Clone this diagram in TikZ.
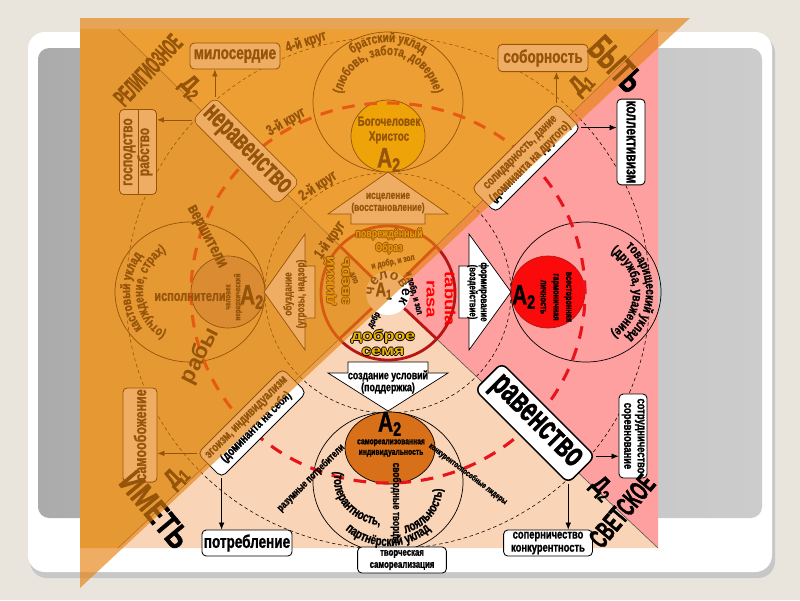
\documentclass[tikz,border=0pt]{standalone}
\usepackage{fontspec}
\setmainfont{Liberation Sans}
\newfontfamily\nrw[FakeStretch=0.74, BoldFeatures={FakeBold=1.2}]{Liberation Sans}
\newfontfamily\mnrw[FakeStretch=0.64, BoldFeatures={FakeBold=1.4}]{Liberation Sans}
\newfontfamily\xnrw[FakeStretch=0.55, BoldFeatures={FakeBold=1.4}]{Liberation Sans}
\newfontfamily\xxnrw[FakeStretch=0.45, BoldFeatures={FakeBold=1.4}]{Liberation Sans}
\newfontfamily\wid[FakeStretch=1.25]{Liberation Sans}
\usetikzlibrary{calc}
\usetikzlibrary{arrows.meta}
\usetikzlibrary{decorations.text}
\usetikzlibrary{positioning}

\definecolor{pagebg}{RGB}{233,229,221}
\definecolor{topq}{RGB}{255,215,120}
\definecolor{rightq}{RGB}{255,160,160}
\definecolor{botq}{RGB}{250,212,182}
\definecolor{leftq}{RGB}{230,195,120}
\definecolor{veil}{RGB}{230,130,15}
\definecolor{ringred}{RGB}{232,20,28}
\definecolor{coreline}{RGB}{185,20,20}
\definecolor{gold}{RGB}{240,180,0}
\definecolor{godc}{RGB}{255,225,0}
\definecolor{slavec}{RGB}{200,160,120}
\definecolor{selfc}{RGB}{215,112,25}
\definecolor{harmc}{RGB}{250,10,10}

\newcommand{\fsz}[2]{\fontsize{#1}{#2}\selectfont}
\newcommand{\goldtxt}[1]{\leavevmode
  \rlap{\color{black}\hspace*{-0.6pt}#1}\rlap{\color{black}\hspace*{0.6pt}#1}%
  \rlap{\color{black}\raisebox{0.6pt}{#1}}\rlap{\color{black}\raisebox{-0.6pt}{#1}}%
  {\color{gold}#1}}
\newcommand{\arcfont}{\nrw\bfseries\fsz{9.5}{10}}

\tikzset{
  sbox/.style={draw, fill=white, rounded corners=3pt, align=center, inner sep=1pt,
    line width=0.6pt, font=\nrw\bfseries\fsz{13}{13}},
  dbox/.style={draw, fill=white, rounded corners=4pt, align=center, inner sep=1pt,
    line width=0.6pt, minimum width=3.0cm, minimum height=0.85cm,
    font=\nrw\bfseries\fsz{9}{10}},
  bigbox/.style={draw, fill=white, rounded corners=5pt, inner sep=1pt,
    font=\mnrw\bfseries\fsz{20}{20}},
  lbl/.style={inner sep=0pt, align=center, font=\nrw\bfseries\fsz{9}{10}},
  alab/.style={inner sep=0pt, font=\nrw\bfseries\fsz{20}{20}},
  dlab/.style={inner sep=0pt, font=\nrw\bfseries\fsz{18}{18}},
  ring/.style={dash pattern=on 2.5pt off 2pt, line width=0.4pt},
  redring/.style={ringred, dash pattern=on 9pt off 7pt, line width=2.2pt},
  cell/.style={line width=0.5pt},
  diag/.style={black!70, line width=0.4pt},
  barrow/.style={draw, fill=white, line width=0.5pt},
  link/.style={-{Latex[length=5pt,width=4pt]}, line width=0.5pt},
  arcword/.style={decorate, decoration={text along path, text align=center, text={#1}}},
}

\begin{document}
\begin{tikzpicture}[x=0.025cm, y=0.025cm]
  \useasboundingbox (0,0) rectangle (800,-600);

  % slide
  \fill[pagebg] (0,0) rectangle (800,-600);
  \fill[black!22, rounded corners=12] (30,-36) rectangle (775,-578);
  \fill[white, rounded corners=12] (28,-32) rectangle (772,-572);
  \shade[rounded corners=8, left color=black!33, right color=black!20, middle color=black!24]
    (38,-48) rectangle (762,-518);

  % quarters
  \coordinate (O) at (388,-293);
  \coordinate (tl) at (118,-29);
  \coordinate (tr) at (658,-29);
  \coordinate (br) at (658,-548);
  \coordinate (bl) at (118,-548);
  \coordinate (T) at (388,-102);
  \coordinate (L) at (190,-292);
  \coordinate (R) at (586,-292);
  \coordinate (B) at (388,-482);

  \fill[topq] (tl) -- (tr) -- (O) -- cycle;
  \fill[rightq] (tr) -- (br) -- (O) -- cycle;
  \fill[botq] (br) -- (bl) -- (O) -- cycle;
  \fill[leftq] (80,-29) -- (tl) -- (O) -- (bl) -- (80,-548) -- cycle;

  % rings
  \draw[ring] (O) ellipse[x radius=262, y radius=256];
  \draw[ring] (O) ellipse[x radius=123, y radius=120];

  % circles of the quarters
  \foreach \c in {T,L,R,B}
    \draw[cell] (\c) ellipse[x radius=75, y radius=70];
  \draw[cell, fill=godc] (388,-136) ellipse[x radius=37, y radius=36];
  \draw[cell, fill=slavec] (228,-292) ellipse[x radius=37, y radius=36];
  \draw[cell, draw=coreline, fill=harmc] (548,-292) ellipse[x radius=37, y radius=36];
  \draw[cell, fill=selfc] (390,-448) ellipse[x radius=45, y radius=36];

  \draw[redring] (O) ellipse[x radius=197, y radius=190];

  % diagonals
  \foreach \k in {tl,tr,br,bl}
    \draw[diag] ($(O)!1.65cm!(\k)$) -- (\k);

  % centre
  \foreach \k in {tl,tr,br,bl}
    \draw[coreline, line width=2pt] ($(O)!0.55cm!(\k)$) -- ($(O)!1.68cm!(\k)$);
  \draw[coreline, line width=2pt] (O) circle[radius=67];
  \fill[white] (O) circle[radius=22];

  % block arrows
  \draw[barrow] (388,-172) -- ++(60,-42) -- ++(-23,0) -- ++(0,-10) -- ++(-74,0)
    -- ++(0,10) -- ++(-23,0) -- cycle;
  \draw[barrow] (388,-411) -- ++(60,38) -- ++(-20,0) -- ++(0,11) -- ++(-80,0)
    -- ++(0,-11) -- ++(-20,0) -- cycle;
  \draw[barrow] (264,-292) -- ++(41,58) -- ++(0,-32) -- ++(10,0) -- ++(0,-52)
    -- ++(-10,0) -- ++(0,-32) -- cycle;
  \draw[barrow] (511,-292) -- ++(-42,58) -- ++(0,-32) -- ++(-10,0) -- ++(0,-52)
    -- ++(10,0) -- ++(0,-32) -- cycle;
  \node[lbl, font=\nrw\bfseries\fsz{8}{8.6}] (heal) at (388,-203) {исцеление\\(восстановление)};
  \node[lbl, font=\nrw\bfseries\fsz{8.5}{8.5}] (care) at (388,-382) {создание условий\\(поддержка)};
  \node[lbl, rotate=90, font=\nrw\bfseries\fsz{8}{9}] (curb) at (295,-294) {обуздание\\(угрозы, надзор)};
  \node[lbl, rotate=-90, font=\nrw\bfseries\fsz{7.5}{8}] (form) at (478,-292) {формирование\\(воздействие)};

  % boxes
  \node[sbox, minimum width=2.25cm, minimum height=0.65cm] (mil) at (235,-56) {милосердие};
  \node[sbox, minimum width=2.25cm, minimum height=0.68cm] (sob) at (543,-58) {соборность};
  \node[sbox, minimum width=2.25cm, minimum height=0.65cm] (potr) at (247,-543) {потребление};
  \node[sbox, minimum width=2.22cm, minimum height=0.65cm, font=\nrw\bfseries\fsz{9}{9.3}]
    (sop) at (548,-543) {соперничество\\конкурентность};
  \node[sbox, minimum width=2.22cm, minimum height=0.65cm, font=\nrw\bfseries\fsz{7.5}{8.6}]
    (tvor) at (402,-560) {творческая\\самореализация};
  \node[sbox, rotate=90, minimum width=2.125cm, minimum height=0.925cm, font=\nrw\bfseries\fsz{11.5}{12}]
    (gos) at (138,-152) {господство\\рабство};
  \draw (gos.west) -- (gos.east);
  \node[sbox, rotate=-90, minimum width=2.125cm, minimum height=0.7cm, font=\nrw\bfseries\fsz{11.5}{12}]
    (kol) at (631,-142) {коллективизм};
  \node[sbox, rotate=90, minimum width=2.125cm, minimum height=0.85cm, font=\nrw\bfseries\fsz{12}{12}]
    (samo) at (140,-435) {самообожение};
  \node[sbox, rotate=-90, minimum width=2.1cm, minimum height=0.7cm, font=\nrw\bfseries\fsz{9}{9.5}]
    (sotr) at (633,-436) {сотрудничество\\соревнование};

  \node[bigbox, rotate=-45, minimum width=3.0cm, minimum height=0.8cm]
    (ner) at (246,-151) {неравенство};
  \node[bigbox, rotate=-45, minimum width=3.3cm, minimum height=0.95cm, line width=1.1pt,
    font=\mnrw\bfseries\fsz{25}{25}] (rav) at (535,-423) {равенство};
  \node[dbox, rotate=45] (sol) at (526,-158) {солидарность, дание\\(доминанта на другого)};
  \node[dbox, rotate=45] (ego) at (252,-423) {эгоизм, индивидуализм\\(доминанта на себя)};

  \draw[link] (ner.north west) -- (ner.north west |- mil.south);
  \draw[link] (ner.south west) -- (ner.south west -| gos.south);
  \draw[link] (sol.north east) -- (sol.north east |- sob.south);
  \draw[link] (sol.south east) -- (sol.south east -| kol.south);
  \draw[link] (ego.north west) -- (ego.north west -| samo.south);
  \draw[link] (ego.south west) -- (ego.south west |- potr.north);
  \draw[link] (rav.north east) -- (rav.north east -| sotr.south);
  \draw[link] (rav.south east) -- (rav.south east |- sop.north);

  % quarter texts
  \node[lbl, font=\nrw\bfseries\fsz{9.5}{10.6}] (christ) at (389,-130) {Богочеловек\\Христос};
  \node[alab] (a2t) at (389,-160) {A\textsubscript{2}};
  \node[lbl, font=\nrw\bfseries\fsz{10.5}{11}] (exec) at (190,-297) {исполнители};
  \node[lbl, rotate=90, font=\nrw\bfseries\fsz{6}{7}] (hier) at (234,-297) {человек\\иерархический};
  \node[alab] (a2l) at (252,-297) {A\textsubscript{2}};
  \node[lbl, rotate=-62, font=\nrw\bfseries\fsz{12}{12}] (rulers) at (206,-237) {вершители};
  \node[lbl, rotate=63, font=\bfseries\fsz{16}{16}] (slaves) at (200,-356) {рабы};
  \node[lbl, rotate=-90, font=\nrw\bfseries\fsz{7}{9}] (harm) at (556,-297) {всесторонняя\\гармоничная\\личность};
  \node[alab] (a2r) at (524,-297) {A\textsubscript{2}};
  \node[alab] (a2b) at (390,-424) {A\textsubscript{2}};
  \node[lbl, font=\nrw\bfseries\fsz{6.5}{7.5}] (selfr) at (391,-448) {самореализованная\\индивидуальность};
  \node[lbl, rotate=-90, font=\nrw\bfseries\fsz{8}{8}] (free) at (396,-503) {свободные творцы};
  \node[lbl, rotate=45, font=\nrw\bfseries\fsz{7.5}{8}] (reas) at (311,-478) {разумные потребители};
  \node[lbl, rotate=-37, font=\nrw\bfseries\fsz{6}{7}] (comp) at (468,-474) {конкурентоспособные лидеры};

  % curved texts
  \path[arcword={|\arcfont|братский уклад}] ($(T)+(138:60)$) arc[start angle=138, end angle=42, radius=60];
  \path[arcword={|\arcfont|(любовь, забота, доверие)}] ($(T)+(190:47)$) arc[start angle=190, end angle=-10, radius=47];
  \path[arcword={|\arcfont|кастовый уклад}] ($(L)+(235:60)$) arc[start angle=235, end angle=125, radius=60];
  \path[arcword={|\arcfont|(отчуждение, страх)}] ($(L)+(265:47)$) arc[start angle=265, end angle=95, radius=47];
  \path[arcword={|\arcfont|товарищеский уклад}] ($(R)+(65:60)$) arc[start angle=65, end angle=-65, radius=60];
  \path[arcword={|\arcfont|(дружба, уважение)}] ($(R)+(80:47)$) arc[start angle=80, end angle=-80, radius=47];
  \path[arcword={|\arcfont|(толерантность,}] ($(B)+(165:54)$) arc[start angle=165, end angle=265, x radius=54, y radius=46];
  \path[arcword={|\arcfont|лояльность)}] ($(B)+(288:54)$) arc[start angle=288, end angle=362, x radius=54, y radius=46];
  \path[arcword={|\arcfont|партнёрский уклад}] ($(B)+(218:64)$) arc[start angle=218, end angle=322, radius=64];

  % centre texts
  \node[lbl, font=\nrw\bfseries\fsz{8.5}{10}] (hurt) at (389,-241) {\goldtxt{повреждённый}\\\goldtxt{Образ}};
  \node[lbl, rotate=12, font=\nrw\bfseries\fsz{6.5}{7}] (both1) at (393,-262) {и добр, и зол};
  \node[lbl, rotate=90, font=\wid\bfseries\fsz{9.5}{11}] (beast) at (338,-281) {\goldtxt{дикий}\\\goldtxt{зверь}};
  \node[lbl, rotate=-65, font=\nrw\bfseries\fsz{6.5}{7}] (evil) at (354,-278) {зло};
  \node[lbl, rotate=-90, text=red, font=\wid\bfseries\fsz{10.5}{13}] (tabula) at (441,-299) {tabula\\rasa};
  \node[lbl, rotate=-75, font=\nrw\bfseries\fsz{6.5}{7}] (both2) at (414,-293) {и добр, и зол};
  \node[lbl, font=\wid\bfseries\fsz{10}{11}] (seed) at (383,-343) {\goldtxt{доброе}\\\goldtxt{семя}};
  \node[lbl, rotate=60, font=\nrw\bfseries\fsz{6.5}{7}] (good) at (374,-320) {добр};
  \path[arcword={|\bfseries\fsz{10}{10}|человек}] ($(O)+(215:14)$) arc[start angle=215, end angle=-70, radius=14];
  \node[lbl, font=\nrw\bfseries\fsz{14}{14}] (a1) at (384,-291) {A\textsubscript{1}};

  % ring names
  \node[lbl, rotate=18, font=\nrw\bfseries\fsz{10.5}{10}] (c4) at (306,-42) {4-й круг};
  \node[lbl, rotate=30, font=\nrw\bfseries\fsz{10.5}{10}] (c3) at (286,-122) {3-й круг};
  \node[lbl, rotate=33, font=\nrw\bfseries\fsz{10.5}{10}] (c2) at (318,-186) {2-й круг};
  \node[lbl, rotate=55, font=\nrw\bfseries\fsz{10.5}{10}] (c1) at (330,-240) {1-й круг};

  % corner words
  \node[lbl, rotate=47, font=\xxnrw\bfseries\fsz{18}{18}] (relig) at (148,-70) {РЕЛИГИОЗНОЕ};
  \node[lbl, rotate=-47, font=\xnrw\bfseries\fsz{26}{26}] (be) at (616,-64) {БЫТЬ};
  \node[lbl, rotate=-50, font=\nrw\bfseries\fsz{24}{24}] (have) at (155,-510) {ИМЕТЬ};
  \node[lbl, rotate=50, font=\xnrw\bfseries\fsz{20}{20}] (secul) at (622,-511) {СВЕТСКОЕ};
  \node[dlab, rotate=-45] (d2a) at (191,-88) {Д\textsubscript{2}};
  \node[dlab, rotate=45] (d1a) at (582,-84) {Д\textsubscript{1}};
  \node[dlab, rotate=45] (d1b) at (177,-477) {Д\textsubscript{1}};
  \node[dlab, rotate=-45] (d2b) at (602,-489) {Д\textsubscript{2}};

  % veil
  \fill[veil, opacity=0.65] (80,-18) -- (690,-18) -- (80,-588) -- cycle;
\end{tikzpicture}
\end{document}
